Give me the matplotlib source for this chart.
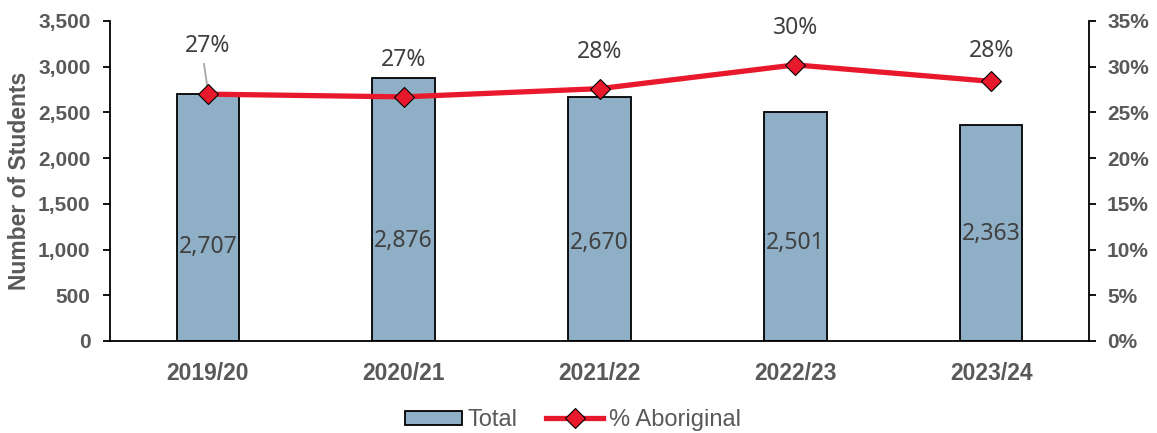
import matplotlib
matplotlib.use("Agg")
import matplotlib.pyplot as plt
from matplotlib.ticker import FuncFormatter
import numpy as np

years = ["2019/20", "2020/21", "2021/22", "2022/23", "2023/24"]
totals = [2707, 2876, 2670, 2501, 2363]
pct_aboriginal = [27.0, 26.7, 27.6, 30.2, 28.4]
pct_labels = ["27%", "27%", "28%", "30%", "28%"]

plt.rcParams['font.family'] = ['Liberation Sans', 'DejaVu Sans']
tick_color = "#595959"
label_color = "#404040"
data_font = ['Noto Sans', 'DejaVu Sans']

fig = plt.figure(figsize=(11.57, 4.33), dpi=100)
ax = fig.add_axes([110/1157, 1 - 341/433, (1089-110)/1157, (341-21)/433])
x = np.arange(len(years))
bars = ax.bar(x, totals, width=0.32, color="#8EAFC6", edgecolor="black", linewidth=1.3, label="Total", zorder=2)
ax.set_xlim(-0.5, 4.5)
ax.set_ylim(0, 3500)
ax.set_yticks(np.arange(0, 3501, 500))
ax.yaxis.set_major_formatter(FuncFormatter(lambda v, p: f"{int(v):,}"))
ax.set_xticks(x)
ax.set_xticklabels(years)
for lab in ax.get_xticklabels():
    lab.set_fontweight("bold")
    lab.set_color(tick_color)
    lab.set_fontsize(16.5)
for lab in ax.get_yticklabels():
    lab.set_fontweight("bold")
    lab.set_color(tick_color)
    lab.set_fontsize(15)
ax.tick_params(axis="x", length=0, pad=15)
ax.tick_params(axis="y", direction="out", length=5, width=1.3, pad=9)
ax.spines["top"].set_visible(False)
ax.spines["right"].set_visible(False)
ax.spines["left"].set_linewidth(1.3)
ax.spines["bottom"].set_linewidth(1.3)
ax.set_ylabel("Number of Students", fontsize=16.5, fontweight="bold", color=tick_color, labelpad=5)

for xi, t, ypos in zip(x, totals, [1028, 1094, 1072, 1072, 1170]):
    ax.text(xi, ypos, f"{t:,}", ha="center", va="center", fontsize=16.5, color=label_color,
            family=data_font, zorder=3)

ax2 = ax.twinx()
ax2.set_ylim(0, 35)
ax2.set_yticks(np.arange(0, 36, 5))
ax2.yaxis.set_major_formatter(FuncFormatter(lambda v, p: f"{int(v)}%"))
for lab in ax2.get_yticklabels():
    lab.set_fontweight("bold")
    lab.set_color(tick_color)
    lab.set_fontsize(15)
ax2.tick_params(axis="y", direction="out", length=5, width=1.3, pad=8)
ax2.spines["top"].set_visible(False)
ax2.spines["left"].set_visible(False)
ax2.spines["bottom"].set_visible(False)
ax2.spines["right"].set_linewidth(1.3)
line, = ax2.plot(x, pct_aboriginal, color="#E8192C", linewidth=3.8, marker="D", markersize=10,
                 markerfacecolor="#E8192C", markeredgecolor="black", markeredgewidth=0.8,
                 label="% Aboriginal", zorder=4)

pct_y = [32.3, 30.7, 31.6, 34.2, 31.7]
for xi, yy, lab in zip(x, pct_y, pct_labels):
    ax2.text(xi, yy, lab, ha="center", va="center", fontsize=16.5, color=label_color,
             family=data_font, zorder=5)
ax2.plot([-0.02, 0.0], [30.3, 27.4], color="#A6A6A6", linewidth=1.3, zorder=3)

fig.legend([bars, line], ["Total", "% Aboriginal"], loc="center", bbox_to_anchor=(573/1157, 1 - 420/433),
           ncol=2, frameon=False, fontsize=17, handlelength=2.4, handleheight=0.55, columnspacing=1.2,
           handletextpad=0.25, labelcolor=tick_color)

fig.savefig("out.png", dpi=100)
